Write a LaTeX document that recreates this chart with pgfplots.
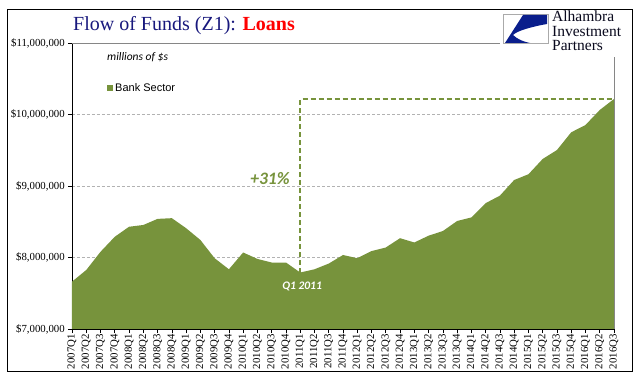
\documentclass[border=0pt]{standalone}
\usepackage{pgfplots}
\usepackage{pgfplotstable}
\pgfplotsset{compat=1.18}
\usepackage{fontspec}
\setmainfont{Liberation Serif}
\newfontfamily\arial{Liberation Sans}
\newfontfamily\calibri{Carlito}
\definecolor{olivegreen}{RGB}{119,147,60}
\definecolor{navytitle}{RGB}{24,24,125}
\definecolor{logoblue}{RGB}{10,30,140}
\definecolor{logotext}{RGB}{10,10,30}
\definecolor{framegray}{RGB}{134,134,134}

\pgfplotstableread{
idx value
0  7662000
1  7825000
2  8080000
3  8290000
4  8430000
5  8455000
6  8540000
7  8550000
8  8410000
9  8245000
10 7990000
11 7835000
12 8070000
13 7980000
14 7930000
15 7930000
16 7790000
17 7835000
18 7915000
19 8035000
20 7990000
21 8090000
22 8140000
23 8270000
24 8210000
25 8305000
26 8370000
27 8510000
28 8560000
29 8760000
30 8865000
31 9084000
32 9164000
33 9378000
34 9503000
35 9751000
36 9853000
37 10063000
38 10217000
}\banksector

\begin{document}
\begin{tikzpicture}[x=1pt,y=1pt]
\fill[white] (0,0) rectangle (641,381);
\draw[black, line width=1pt] (7.5,9.5) rectangle (632,371);

\begin{axis}[
  at={(72pt,52pt)}, anchor=south west,
  width=542pt, height=286pt, scale only axis,
  xmin=0, xmax=38, ymin=7000000, ymax=11000000,
  axis x line*=bottom, axis y line*=left,
  axis line style={-, black, line width=0.8pt},
  tick align=outside, major tick length=4pt,
  tick style={black, line width=0.6pt},
  xtick={0,...,38},
  xticklabels={2007Q1,2007Q2,2007Q3,2007Q4,2008Q1,2008Q2,2008Q3,2008Q4,2009Q1,2009Q2,2009Q3,2009Q4,2010Q1,2010Q2,2010Q3,2010Q4,2011Q1,2011Q2,2011Q3,2011Q4,2012Q1,2012Q2,2012Q3,2012Q4,2013Q1,2013Q2,2013Q3,2013Q4,2014Q1,2014Q2,2014Q3,2014Q4,2015Q1,2015Q2,2015Q3,2015Q4,2016Q1,2016Q2,2016Q3},
  xticklabel style={rotate=90, anchor=east, font=\fontsize{10.8}{12}\selectfont, inner sep=1pt},
  ytick={7000000,8000000,9000000,10000000,11000000},
  yticklabels={{\$7,000,000},{\$8,000,000},{\$9,000,000},{\$10,000,000},{\$11,000,000}},
  yticklabel style={font=\fontsize{10.8}{12}\selectfont, inner sep=1pt, xshift=-2pt},
  scaled y ticks=false,
  ymajorgrids, grid style={densely dashed, gray!60, line width=0.4pt},
  legend image code/.code={\fill[olivegreen] (0pt,-3pt) rectangle (6pt,3pt);},
  legend style={draw=none, fill=none, at={(0.0646,0.843)}, anchor=west,
    font=\arial\fontsize{11}{13}\selectfont, inner sep=0pt},
  legend cell align=left,
  clip=false,
]
\addplot[fill=olivegreen, draw=none] table[x=idx, y=value] {\banksector} \closedcycle;
\addlegendentry{Bank Sector}

\draw[black, line width=0.8pt] (rel axis cs:0,0) -- (rel axis cs:1,0);
\draw[framegray, line width=0.8pt] (rel axis cs:0,1) -- (rel axis cs:1,1) -- (rel axis cs:1,0);

\draw[olivegreen, line width=1.6pt, dash pattern=on 5pt off 3pt]
  (axis cs:16,7790000) -- (axis cs:16,10217000) -- (axis cs:38,10217000);

\node[font=\calibri\bfseries\itshape\fontsize{17.5}{19}\selectfont, text=olivegreen]
  at (axis cs:13.88,9098000) {+31\%};
\node[font=\calibri\bfseries\itshape\fontsize{11.5}{13}\selectfont, text=white]
  at (axis cs:16.13,7601000) {Q1 2011};
\node[font=\calibri\itshape\fontsize{11.5}{13}\selectfont, anchor=west, inner sep=0pt]
  at (rel axis cs:0.0646,0.951) {millions of \$s};
\end{axis}

% title
\node[anchor=base west, inner sep=0pt, font=\fontsize{20}{22}\selectfont]
  at (73,350) {\textcolor{navytitle}{Flow of Funds (Z1): }\textcolor{red}{\bfseries Loans}};

% logo
\fill[white] (500,324) rectangle (628,369);
\draw[framegray!70, line width=0.5pt] (503,338) rectangle (548,367);
\fill[logoblue] (505,338) -- (523,366) -- (547,366) -- (547,357)
  .. controls (530,354) and (517,350) .. (513,346)
  .. controls (517,342) and (524,339) .. (530,338) -- cycle;
\node[anchor=north west, inner sep=0pt, align=left, text=logotext,
  font=\fontsize{15.5}{14.5}\selectfont] at (552,370) {Alhambra\\Investment\\Partners};
\end{tikzpicture}
\end{document}
